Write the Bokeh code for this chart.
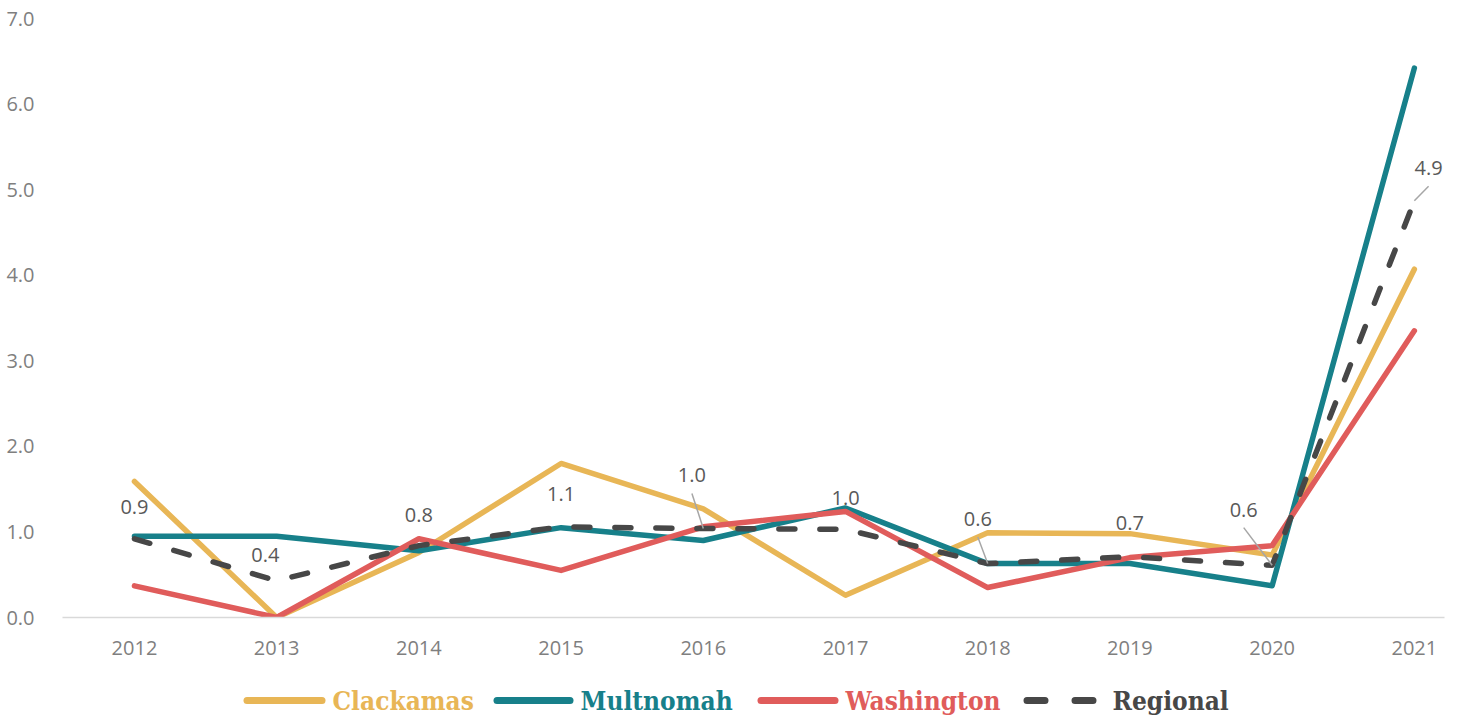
from bokeh.plotting import figure
from bokeh.layouts import column
from bokeh.models import FixedTicker, ColumnDataSource, Range1d
from bokeh.core.properties import value
from bokeh.embed import file_html
from bokeh.resources import INLINE

# ---- data ----
years = ["2012", "2013", "2014", "2015", "2016", "2017", "2018", "2019", "2020", "2021"]
clackamas = [1.59, 0.00, 0.76, 1.80, 1.27, 0.26, 0.99, 0.98, 0.73, 4.07]
multnomah = [0.95, 0.95, 0.78, 1.05, 0.90, 1.28, 0.63, 0.63, 0.37, 6.42]
washington = [0.37, 0.00, 0.92, 0.55, 1.06, 1.24, 0.35, 0.70, 0.84, 3.35]
regional = [0.92, 0.43, 0.84, 1.06, 1.04, 1.03, 0.63, 0.71, 0.61, 4.87]
regional_labels = ["0.9", "0.4", "0.8", "1.1", "1.0", "1.0", "0.6", "0.7", "0.6", "4.9"]
y_ticks = [0, 1, 2, 3, 4, 5, 6, 7]
series_names = ["Clackamas", "Multnomah", "Washington", "Regional"]

# label placement (offsets from the point, in data units)
label_dx = [0.0, -0.08, 0.0, 0.0, -0.08, 0.0, -0.07, 0.0, -0.20, 0.10]
label_dy = [0.37, 0.30, 0.36, 0.38, 0.62, 0.37, 0.52, 0.40, 0.65, 0.38]
has_leader = [False, False, False, False, True, False, True, False, True, True]

C_CLACK = "#E8B656"
C_MULT = "#17808A"
C_WASH = "#E05C5B"
C_REG = "#474747"
TICK_COL = "#7F7F7F"
LABEL_COL = "#595959"
FONT = "Open Sans"
LEG_FONT = "DejaVu Serif Condensed"

xs = list(range(len(years)))

W = 1457
H_MAIN = 665
H_LEG = 52
F_LEFT = 62
F_RIGHT = 1444

p = figure(width=W, height=H_MAIN, output_backend="svg", toolbar_location=None,
           x_range=Range1d(-0.506, 9.212), y_range=Range1d(0, 7),
           min_border_left=F_LEFT, min_border_right=W - F_RIGHT, min_border_top=18,
           min_border_bottom=H_MAIN - 617)
p.outline_line_color = None
p.xgrid.visible = False
p.ygrid.visible = False
p.background_fill_color = "white"
p.border_fill_color = "white"

# axes
p.xaxis.ticker = FixedTicker(ticks=xs)
p.xaxis.major_label_overrides = {i: y for i, y in enumerate(years)}
p.xaxis.major_tick_line_color = None
p.xaxis.minor_tick_line_color = None
p.xaxis.axis_line_color = "#D9D9D9"
p.xaxis.axis_line_width = 1.5
p.xaxis.major_label_text_font = FONT
p.xaxis.major_label_text_font_size = "20px"
p.xaxis.major_label_text_color = TICK_COL
p.xaxis.major_label_standoff = 17

p.yaxis.ticker = FixedTicker(ticks=y_ticks)
p.yaxis.major_label_overrides = {t: f"{t:.1f}" for t in y_ticks}
p.yaxis.axis_line_color = None
p.yaxis.major_tick_line_color = None
p.yaxis.minor_tick_line_color = None
p.yaxis.major_label_text_font = FONT
p.yaxis.major_label_text_font_size = "20px"
p.yaxis.major_label_text_color = TICK_COL
p.yaxis.major_label_standoff = 22

LW = 5.5
common = dict(line_width=LW, line_cap="round", line_join="round")
p.line(xs, clackamas, line_color=C_CLACK, **common)
p.line(xs, multnomah, line_color=C_MULT, **common)
p.line(xs, washington, line_color=C_WASH, **common)
p.line(xs, regional, line_color=C_REG, line_dash="16 25", **common)

# data labels for regional
lab_x = [x + d for x, d in zip(xs, label_dx)]
lab_y = [v + d for v, d in zip(regional, label_dy)]
src = ColumnDataSource(dict(x=lab_x, y=lab_y, t=regional_labels))
p.text(x="x", y="y", text="t", source=src, text_font=value(FONT), text_font_size="20px",
       text_color=LABEL_COL, text_align="center", text_baseline="middle")

# leader lines
ld = [i for i in xs if has_leader[i]]
p.segment(x0=[lab_x[i] for i in ld], y0=[lab_y[i] - 0.21 for i in ld],
          x1=[xs[i] for i in ld], y1=[regional[i] for i in ld],
          line_color="#A6A6A6", line_width=1.5)

# ---- legend strip (pixel coordinates; frame aligned with the main plot) ----
q = figure(width=W, height=H_LEG, output_backend="svg", toolbar_location=None,
           x_range=Range1d(F_LEFT, F_RIGHT), y_range=Range1d(0, H_LEG),
           x_axis_location=None, y_axis_location=None,
           min_border_left=F_LEFT, min_border_right=W - F_RIGHT,
           min_border_top=0, min_border_bottom=0)
q.grid.visible = False
q.outline_line_color = None
q.background_fill_color = "white"
q.border_fill_color = "white"

leg_colors = [C_CLACK, C_MULT, C_WASH, C_REG]
leg_dash = ["solid", "solid", "solid", "18 30"]
leg_x0 = [246.5, 496.5, 760.5, 1026.5]
leg_x1 = [321.5, 569.5, 834.5, 1101.5]
leg_tx = [332, 580, 845, 1112]
LEG_Y = 17
for name, col, dash, x0, x1, tx in zip(series_names, leg_colors, leg_dash, leg_x0, leg_x1, leg_tx):
    q.line([x0, x1], [LEG_Y, LEG_Y], line_color=col, line_width=7, line_cap="round",
           line_dash=dash)
    q.text(x=[tx], y=[LEG_Y], text=[name], text_font=value(LEG_FONT), text_font_style="bold",
           text_font_size="26px", text_color=col, text_align="left", text_baseline="middle")

layout = column(p, q, spacing=0)
open("out.html", "w").write(file_html(layout, INLINE))
